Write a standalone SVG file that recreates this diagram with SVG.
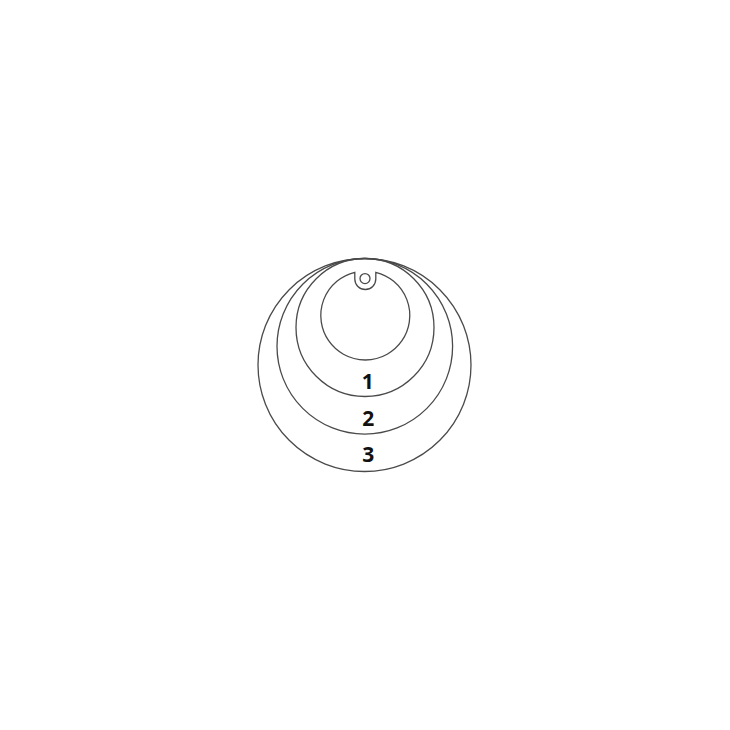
<svg xmlns="http://www.w3.org/2000/svg" width="730" height="730" viewBox="0 0 730 730">
<style>
.ring{fill:none;stroke:#4a4a4a;stroke-width:1.3}
.lbl{font-family:"Open Sans","Noto Sans","Liberation Sans",sans-serif;font-weight:bold;font-size:21px;fill:#111;text-anchor:middle}
</style>
<rect width="730" height="730" fill="#fff"/>
<g id="disc3"><circle class="ring" cx="364.5" cy="365" r="106.5"/></g>
<g id="disc2"><circle class="ring" cx="364.8" cy="346.3" r="87.8"/></g>
<g id="disc1"><circle class="ring" cx="365" cy="327.5" r="69"/></g>
<g id="pendant">
<path class="ring" d="M354.5 272.26 A44.5 44.5 0 1 0 375.5 272.26 L375.5 279 A10.5 10.5 0 0 1 354.5 279 Z" transform="translate(0.3,0)"/>
<circle class="ring" cx="365" cy="278.6" r="5"/>
</g>
<g id="labels">
<text class="lbl" x="367.8" y="389">1</text>
<text class="lbl" x="368.3" y="425.5">2</text>
<text class="lbl" x="368.3" y="461.5">3</text>
</g>
</svg>
